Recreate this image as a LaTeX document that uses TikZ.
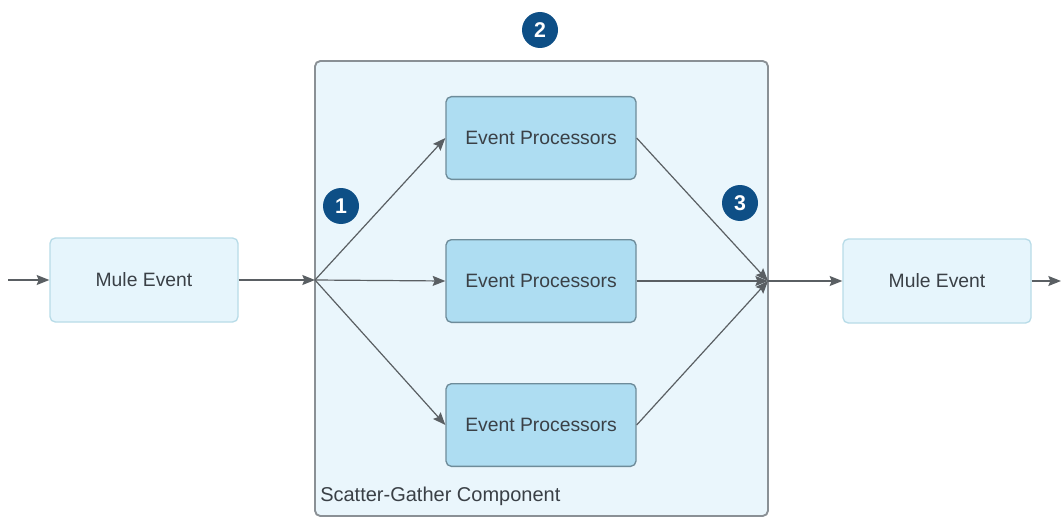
\documentclass[tikz,border=0pt]{standalone}
\usepackage{fontspec}
\setmainfont{Liberation Sans}
\usetikzlibrary{arrows.meta}
\definecolor{txt}{HTML}{3A4046}
\definecolor{edge}{HTML}{5A5F63}
\definecolor{contfill}{HTML}{EAF6FC}
\definecolor{contdraw}{HTML}{8A9095}
\definecolor{epfill}{HTML}{AEDDF2}
\definecolor{epdraw}{HTML}{6E8C9A}
\definecolor{mfill}{HTML}{E6F5FC}
\definecolor{mdraw}{HTML}{B8DCE8}
\definecolor{badge}{HTML}{0E4F86}
\tikzset{
  container/.style={draw=contdraw, fill=contfill, line width=1.4pt, rounded corners=4pt},
  epbox/.style={draw=epdraw, fill=epfill, line width=1pt, rounded corners=4pt,
    minimum width=142.5pt, minimum height=62pt, font=\fontsize{14.5}{16}\selectfont, text=txt},
  mulebox/.style={draw=mdraw, fill=mfill, line width=1pt, rounded corners=4pt,
    minimum width=141pt, minimum height=63pt, font=\fontsize{14.5}{16}\selectfont, text=txt},
  badgenode/.style={circle, fill=badge, minimum size=27pt, inner sep=0pt,
    text=white, font=\bfseries\fontsize{16}{18}\selectfont},
  flow/.style={draw=edge, line width=0.9pt, -{Stealth[length=9.5pt,width=7.5pt,inset=1.5pt]}},
}
\begin{document}
\begin{tikzpicture}[x=0.75pt,y=-0.75pt]
\useasboundingbox (0,0) rectangle (1061,517);
\fill[white] (0,0) rectangle (1061,517);
% container
\draw[container] (315,61) rectangle (768,516);
\node[anchor=south west, inner sep=0pt, font=\fontsize{15}{17}\selectfont, text=txt] (sglabel) at (320,506) {Scatter-Gather Component};
% badges
\node[badgenode] (b2) at (540,30) {2};
\node[badgenode] (b1) at (341,206) {1};
\node[badgenode] (b3) at (740,203) {3};
% event processors
\node[epbox] (ep1) at (541,138) {Event Processors};
\node[epbox] (ep2) at (541,281) {Event Processors};
\node[epbox] (ep3) at (541,425) {Event Processors};
% mule events
\node[mulebox] (m1) at (144,280) {Mule Event};
\node[mulebox] (m2) at (937,281) {Mule Event};
% coordinates
\coordinate (in) at (8,280);
\coordinate (split) at (315,280);
\coordinate (gather) at (768,281);
\coordinate (out) at (1061,281);
% connectors
\draw[flow] (in) -- (m1.west);
\draw[flow] (m1.east) -- (split);
\draw[flow] (split) -- (ep1.west);
\draw[flow] (split) -- (ep2.west);
\draw[flow] (split) -- (ep3.west);
\draw[flow] (ep1.east) -- (gather);
\draw[flow] (ep2.east) -- (gather);
\draw[flow] (ep3.east) -- (gather);
\draw[flow] (gather) -- (m2.west);
\draw[flow] (m2.east) -- (out);
\end{tikzpicture}
\end{document}
